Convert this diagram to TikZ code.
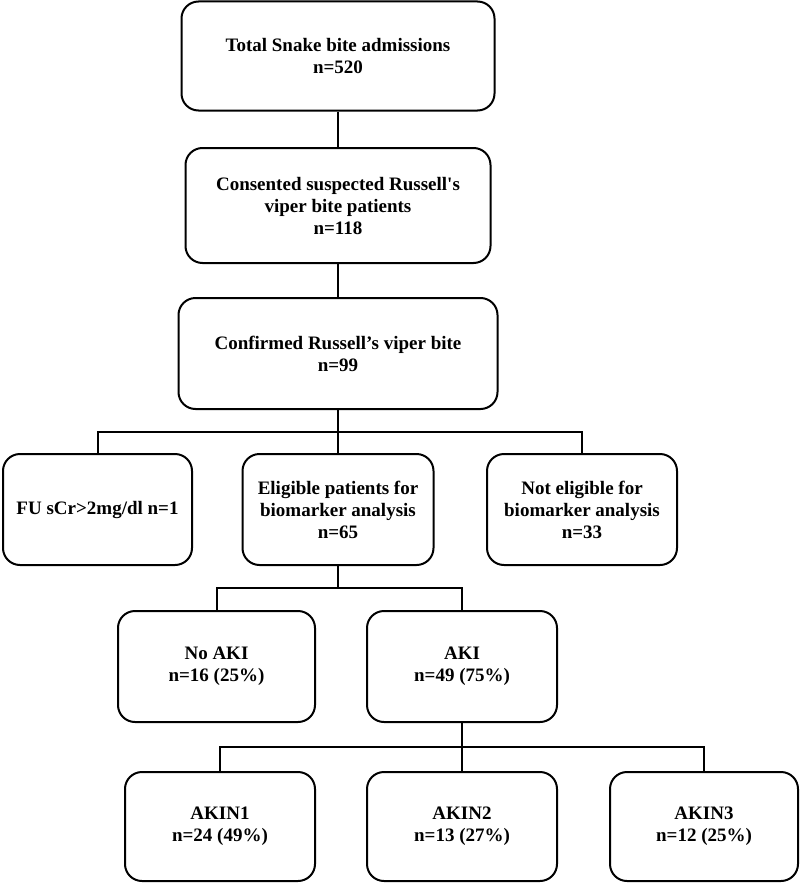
\documentclass[tikz,border=0pt]{standalone}
\usepackage{fontspec}
\setmainfont{Liberation Serif}
\newfontfamily\straightfont{Liberation Serif}[Ligatures=TeXOff]
\begin{document}
\begin{tikzpicture}[x=1pt,y=-1pt,
  box/.style={draw, line width=2pt, rounded corners=17pt, align=center,
    font=\fontsize{19}{22}\selectfont\bfseries, inner sep=2pt},
  conn/.style={line width=2pt}]
\useasboundingbox (0,0) rectangle (800,883);
% row 1-3
\node[box, minimum width=313pt, minimum height=109pt] (n1) at (338,56) {Total Snake bite admissions\\n=520};
\node[box, minimum width=305pt, minimum height=115pt] (n2) at (338,205.5) {Consented suspected Russell{\straightfont\bfseries '}s\\viper bite patients\\n=118};
\node[box, minimum width=319pt, minimum height=111pt] (n3) at (338,353.5) {Confirmed Russell’s viper bite\\n=99};
% row 4
\node[box, minimum width=189pt, minimum height=111pt] (fu) at (97.5,509.5) {FU sCr>2mg/dl n=1};
\node[box, minimum width=191pt, minimum height=111pt] (el) at (338,509.5) {Eligible patients for\\biomarker analysis\\n=65};
\node[box, minimum width=190pt, minimum height=111pt] (ne) at (582,509.5) {Not eligible for\\biomarker analysis\\n=33};
% row 5
\node[box, minimum width=197pt, minimum height=111pt] (noaki) at (216.5,666.5) {No AKI\\n=16 (25\%)};
\node[box, minimum width=190pt, minimum height=111pt] (aki) at (462,666.5) {AKI\\n=49 (75\%)};
% row 6
\node[box, minimum width=190pt, minimum height=109pt] (k1) at (220,826.5) {AKIN1\\n=24 (49\%)};
\node[box, minimum width=190pt, minimum height=109pt] (k2) at (462,826.5) {AKIN2\\n=13 (27\%)};
\node[box, minimum width=188pt, minimum height=109pt] (k3) at (704,826.5) {AKIN3\\n=12 (25\%)};
% connectors
\draw[conn] (n1) -- (n2);
\draw[conn] (n2) -- (n3);
\coordinate (j1) at (338,432);
\coordinate (j2) at (338,588);
\coordinate (j3) at (462,747);
\draw[conn] (n3.south) -- (j1);
\draw[conn] (fu.north) -- (fu.north |- j1) -- (ne.north |- j1) -- (ne.north);
\draw[conn] (j1) -- (el.north);
\draw[conn] (el.south) -- (j2);
\draw[conn] (noaki.north) -- (noaki.north |- j2) -- (aki.north |- j2) -- (aki.north);
\draw[conn] (aki.south) -- (j3);
\draw[conn] (k1.north) -- (k1.north |- j3) -- (k3.north |- j3) -- (k3.north);
\draw[conn] (j3) -- (k2.north);
\end{tikzpicture}
\end{document}
